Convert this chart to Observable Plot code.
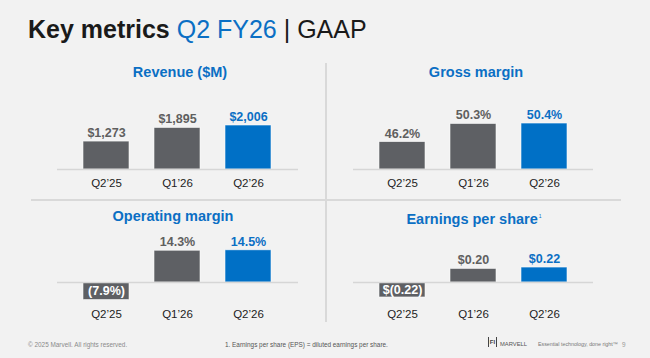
<!DOCTYPE html>
<html><head><meta charset="utf-8">
<script src="https://cdn.jsdelivr.net/npm/d3@7"></script>
<script src="https://cdn.jsdelivr.net/npm/@observablehq/plot@0.6"></script>
<style>
html,body{margin:0;padding:0;background:#f2f2f2;}
body{width:650px;height:358px;position:relative;overflow:hidden;font-family:"Liberation Sans",Arial,sans-serif;}
.abs{position:absolute;white-space:nowrap;}
.ptitle{color:#0b6fc4;font-weight:bold;font-size:14.5px;line-height:14.5px;transform:translateX(-50%);}
.foot{font-size:6.4px;line-height:7px;color:#8a8a8a;}
svg{overflow:visible;}
</style></head><body>
<div class="abs" style="left:28px;top:17px;font-size:25px;line-height:25px;color:#1a1a1a;"><b>Key metrics</b> <span style="color:#0b6fc4">Q2 FY26</span> | GAAP</div>

<div class="abs" style="left:325px;top:63px;width:1.5px;height:259px;background:#d9d9d9"></div>
<div class="abs" style="left:31px;top:199px;width:590px;height:1.5px;background:#d9d9d9"></div>

<div class="abs ptitle" style="left:180px;top:65px">Revenue ($M)</div>
<div class="abs ptitle" style="left:476px;top:65px">Gross margin</div>
<div class="abs ptitle" style="left:173px;top:209px">Operating margin</div>
<div class="abs ptitle" style="left:474px;top:209px">Earnings per share<sup style="font-size:5px;font-weight:normal;vertical-align:6px;margin-left:1px">1</sup></div>

<div id="p1" class="abs" style="left:30px;top:60px"></div>
<div id="p2" class="abs" style="left:330px;top:60px"></div>
<div id="p3" class="abs" style="left:30px;top:205px"></div>
<div id="p4" class="abs" style="left:330px;top:205px"></div>

<div class="abs foot" style="left:28px;top:341px">© 2025 Marvell. All rights reserved.</div>
<div class="abs foot" style="left:225px;top:341px;color:#555">1. Earnings per share (EPS) = diluted earnings per share.</div>
<div class="abs" style="left:488px;top:337px;width:7px;height:10px;border-left:1px solid #444;border-right:1px solid #444;font-size:6px;line-height:10px;text-align:center;color:#444;font-weight:bold">FI</div>
<div class="abs foot" style="left:500px;top:341px;color:#555;font-size:5.8px">MARVELL</div>
<div class="abs foot" style="left:538px;top:341px;font-size:5.3px;color:#777">Essential technology, done right™</div>
<div class="abs foot" style="left:622px;top:341px;color:#999">9</div>

<script>
const quarters = ["Q2’25", "Q1’26", "Q2’26"];
const currentQuarter = "Q2’26";
const revenue = [1273, 1895, 2006];
const grossMargin = [46.2, 50.3, 50.4];
const operatingMargin = [-7.9, 14.3, 14.5];
const eps = [-0.22, 0.20, 0.22];
const grossMarginAxisMin = 40;

const BLUE = "#0070c6";
const GRAY = "#5e6064";
const LABEL_GRAY = "#5f5f5f";
const LABEL_BLUE = "#0b6fc4";

const fmtRevenue = v => "$" + d3.format(",")(v);
const fmtPct = v => v < 0 ? "(" + Math.abs(v).toFixed(1) + "%)" : v.toFixed(1) + "%";
const fmtEps = v => v < 0 ? "$(" + Math.abs(v).toFixed(2) + ")" : "$" + v.toFixed(2);

function panel(id, {left, top, width, height, frameL, frameR, baseline, yMin = 0, ppu, values, fmt, tickPad}) {
  const marginLeft = frameL - left, marginRight = left + width - frameR;
  const marginTop = 0, marginBottom = top + height - baseline;
  const frameH = baseline - top - marginTop;
  const data = quarters.map((q, i) => ({q, v: values[i], hi: q === currentQuarter}));
  const chart = Plot.plot({
    width, height, marginLeft, marginRight, marginTop, marginBottom,
    style: {background: "transparent", fontFamily: "Liberation Sans, Arial, sans-serif", overflow: "visible"},
    color: {type: "identity"},
    x: {domain: quarters, padding: 0.35, label: null, axis: null},
    y: {domain: [yMin, yMin + frameH / ppu], axis: null},
    marks: [
      Plot.barY(data, {x: "q", y1: yMin, y2: "v", fill: d => d.hi ? BLUE : GRAY, stroke: "white", strokeWidth: 0.8, strokeOpacity: 0.7}),
      Plot.ruleY([yMin], {stroke: "#d6d6d6", strokeWidth: 1.5}),
      Plot.text(data.filter(d => d.v >= 0), {x: "q", y: "v", text: d => fmt(d.v), dy: -8.5,
        fill: d => d.hi ? LABEL_BLUE : LABEL_GRAY, fontWeight: "bold", fontSize: 12.5}),
      Plot.text(data.filter(d => d.v < 0), {x: "q", y: d => d.v / 2, text: d => fmt(d.v),
        fill: "white", fontWeight: "bold", fontSize: 12.5}),
      Plot.axisX({tickSize: 0, tickPadding: tickPad, fontSize: 11.5, fill: "#222", label: null})
    ]
  });
  document.getElementById(id).appendChild(chart);
}

panel("p1", {left: 30, top: 60, width: 290, height: 135, frameL: 57, frameR: 298, baseline: 169, ppu: 0.02193, values: revenue, fmt: fmtRevenue, tickPad: 9});
panel("p2", {left: 330, top: 60, width: 290, height: 135, frameL: 353, frameR: 593, baseline: 169, yMin: grossMarginAxisMin, ppu: 4.42, values: grossMargin, fmt: fmtPct, tickPad: 9});
panel("p3", {left: 30, top: 205, width: 290, height: 120, frameL: 57, frameR: 298, baseline: 282, ppu: 2.22, values: operatingMargin, fmt: fmtPct, tickPad: 27});
panel("p4", {left: 330, top: 205, width: 290, height: 120, frameL: 353, frameR: 593, baseline: 282, ppu: 68, values: eps, fmt: fmtEps, tickPad: 27});
</script>
</body></html>
